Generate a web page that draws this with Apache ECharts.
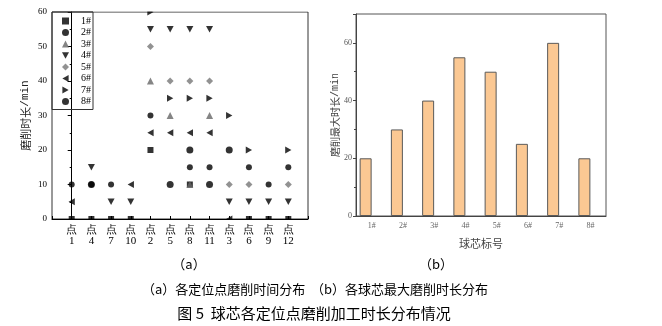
<!DOCTYPE html>
<html>
<head>
<meta charset="utf-8">
<script src="https://cdn.jsdelivr.net/npm/echarts@6/dist/echarts.min.js"></script>
<style>
  html, body { margin: 0; padding: 0; background: #fff; }
  #chart { width: 662px; height: 326px; }
</style>
</head>
<body>
<div id="chart"></div>
<script>
// Left panel: grinding time at each locating point, per ball core
const pointNumbers = [1, 4, 7, 10, 2, 5, 8, 11, 3, 6, 9, 12];
const coreNames = ['1#', '2#', '3#', '4#', '5#', '6#', '7#', '8#'];
const core1 = [0, 0, 0, 0, 20, null, 10, null, null, 0, 0, 0];
const core2 = [10, 10, 10, null, 30, null, 15, 15, null, 15, 10, 15];
const core3 = [null, null, null, null, 40, 30, 10, 30, null, null, null, null];
const core4 = [null, 15, 5, 5, 55, 55, 55, 55, 5, 5, 5, 5];
const core5 = [null, null, null, null, 50, 40, 40, 40, 10, 10, null, 10];
const core6 = [5, null, null, 10, 25, 25, 25, 25, 0, null, null, null];
const core7 = [null, null, null, null, 60, 35, 35, 35, 30, 20, null, 20];
const core8 = [null, 10, null, null, null, 10, 20, 10, 20, null, null, null];
const leftTicks = [0, 10, 20, 30, 40, 50, 60];

// Right panel: maximum grinding time per ball core
const maxTimes = [20, 30, 40, 55, 50, 25, 60, 20];
const rightTicks = [0, 20, 40, 60];

const coreValues = [core1, core2, core3, core4, core5, core6, core7, core8];
// marker shapes: square, dot, up / down / left / right triangles, diamond
const triDown = 'path://M0,0 L10,0 L5,9 Z';
const triLeft = 'path://M9,0 L9,10 L0,5 Z';
const triRight = 'path://M0,0 L9,5 L0,10 Z';
const coreSymbols = ['rect', 'circle', 'triangle', triDown, 'diamond', triLeft, triRight, 'circle'];
const coreColors = ['#000', '#000', '#666', '#000', '#777', '#000', '#000', '#000'];
const coreSizes = [6, 6, 7, 7, 7, 7, 7, 7];

const serif = 'Liberation Serif';
const cjk = 'Noto Sans CJK SC';

const scatterSeries = coreNames.map((name, k) => ({
  name: name,
  type: 'scatter',
  xAxisIndex: 0,
  yAxisIndex: 0,
  symbol: coreSymbols[k],
  symbolSize: coreSizes[k],
  symbolKeepAspect: true,
  itemStyle: { color: coreColors[k] },
  data: coreValues[k]
    .map((v, i) => (v === null ? null : [i, v]))
    .filter(p => p !== null)
}));

const chart = echarts.init(document.getElementById('chart'));
chart.setOption({
  animation: false,
  grid: [
    { left: 52, top: 12, right: 354, bottom: 107, show: true, borderColor: '#333', borderWidth: 1 },
    { left: 356, top: 14, right: 56, bottom: 110, show: true, borderColor: '#555', borderWidth: 1 }
  ],
  legend: {
    data: coreNames.map((n, k) => ({ name: n, icon: coreSymbols[k] })),
    orient: 'vertical',
    left: 52,
    top: 12,
    padding: [4, 2, 3, 10],
    itemWidth: 7,
    itemHeight: 7,
    itemGap: 1.5,
    borderColor: '#333',
    borderWidth: 1,
    textStyle: { fontFamily: serif, fontSize: 10, lineHeight: 10, color: '#000', padding: [0, 0, 0, 7] }
  },
  xAxis: [
    {
      gridIndex: 0,
      type: 'value',
      min: -1,
      max: 12,
      interval: 1,
      splitLine: { show: false },
      axisLine: { lineStyle: { color: '#000', width: 1 } },
      axisTick: { inside: true, length: 3, lineStyle: { color: '#000' } },
      axisLabel: {
        margin: 6,
        fontFamily: serif,
        fontSize: 11,
        lineHeight: 11,
        color: '#000',
        formatter: v => (v >= 0 && v < pointNumbers.length ? '点\n' + pointNumbers[v] : '')
      }
    },
    {
      gridIndex: 1,
      type: 'category',
      data: coreNames,
      axisLine: { lineStyle: { color: '#444', width: 1 } },
      axisTick: { inside: true, length: 3, lineStyle: { color: '#444' } },
      axisLabel: { margin: 6, fontFamily: serif, fontSize: 8, color: '#666' },
      name: '球芯标号',
      nameLocation: 'middle',
      nameGap: 22,
      nameTextStyle: { fontFamily: cjk, fontSize: 11, color: '#444' }
    }
  ],
  yAxis: [
    {
      gridIndex: 0,
      type: 'value',
      min: leftTicks[0],
      max: leftTicks[leftTicks.length - 1],
      interval: leftTicks[1] - leftTicks[0],
      splitLine: { show: false },
      axisLine: { show: true, lineStyle: { color: '#000' } },
      axisTick: { show: true, length: 4, lineStyle: { color: '#000' } },
      minorTick: { show: true, splitNumber: 2, length: 2, lineStyle: { color: '#000' } },
      axisLabel: { margin: 5, fontFamily: serif, fontSize: 9, color: '#000' },
      name: '{c|磨削时长}{m|/min}',
      nameLocation: 'middle',
      nameRotate: 90,
      nameGap: 21,
      nameTextStyle: {
        color: '#222',
        rich: {
          c: { fontFamily: cjk, fontSize: 11, color: '#222' },
          m: { fontFamily: 'Liberation Mono', fontSize: 11, color: '#222' }
        }
      }
    },
    {
      gridIndex: 1,
      type: 'value',
      min: rightTicks[0],
      max: 70,
      interval: rightTicks[1] - rightTicks[0],
      splitLine: { show: false },
      axisLine: { show: true, lineStyle: { color: '#444' } },
      axisTick: { show: true, length: 3, lineStyle: { color: '#444' } },
      minorTick: { show: true, splitNumber: 2, length: 2, lineStyle: { color: '#444' } },
      axisLabel: { margin: 4, fontFamily: serif, fontSize: 8, color: '#555', showMaxLabel: false },
      name: '{c|磨削最大时长}{m|/min}',
      nameLocation: 'middle',
      nameRotate: 90,
      nameGap: 12,
      nameTextStyle: {
        color: '#444',
        rich: {
          c: { fontFamily: cjk, fontSize: 10, color: '#444' },
          m: { fontFamily: 'Liberation Mono', fontSize: 10, color: '#444' }
        }
      }
    }
  ],
  series: scatterSeries.concat([
    {
      name: 'max',
      type: 'bar',
      xAxisIndex: 1,
      yAxisIndex: 1,
      barWidth: 12,
      barGap: '0%',
      itemStyle: { color: '#FBC893', borderColor: '#5a5a5a', borderWidth: 1 },
      data: maxTimes
    },
    {
      // empty companion keeps each bar to the left of its label, as in the source figure
      name: 'pad',
      type: 'bar',
      xAxisIndex: 1,
      yAxisIndex: 1,
      barWidth: 12,
      barGap: '0%',
      itemStyle: { color: 'transparent' },
      data: maxTimes.map(() => null)
    }
  ]),
  graphic: [
    // masks so markers sitting on the frame show only their inner half
    { type: 'rect', z: 10, silent: true, shape: { x: 53, y: 220, width: 256, height: 3.5 }, style: { fill: '#fff' } },
    { type: 'rect', z: 10, silent: true, shape: { x: 93, y: 0, width: 216, height: 11.5 }, style: { fill: '#fff' } },
    { type: 'text', z: 20, x: 189, y: 264, style: { text: '（a）', fontFamily: cjk, fontSize: 13, fill: '#000', textAlign: 'center', textVerticalAlign: 'middle' } },
    { type: 'text', z: 20, x: 436, y: 264, style: { text: '（b）', fontFamily: cjk, fontSize: 13, fill: '#000', textAlign: 'center', textVerticalAlign: 'middle' } },
    { type: 'text', z: 20, x: 315, y: 289, style: { text: '（a）各定位点磨削时间分布  （b）各球芯最大磨削时长分布', fontFamily: cjk, fontSize: 13, fill: '#000', textAlign: 'center', textVerticalAlign: 'middle' } },
    { type: 'text', z: 20, x: 314, y: 313, style: { text: '图 5  球芯各定位点磨削加工时长分布情况', fontFamily: cjk, fontSize: 15, fill: '#000', textAlign: 'center', textVerticalAlign: 'middle' } }
  ]
});
</script>
</body>
</html>
